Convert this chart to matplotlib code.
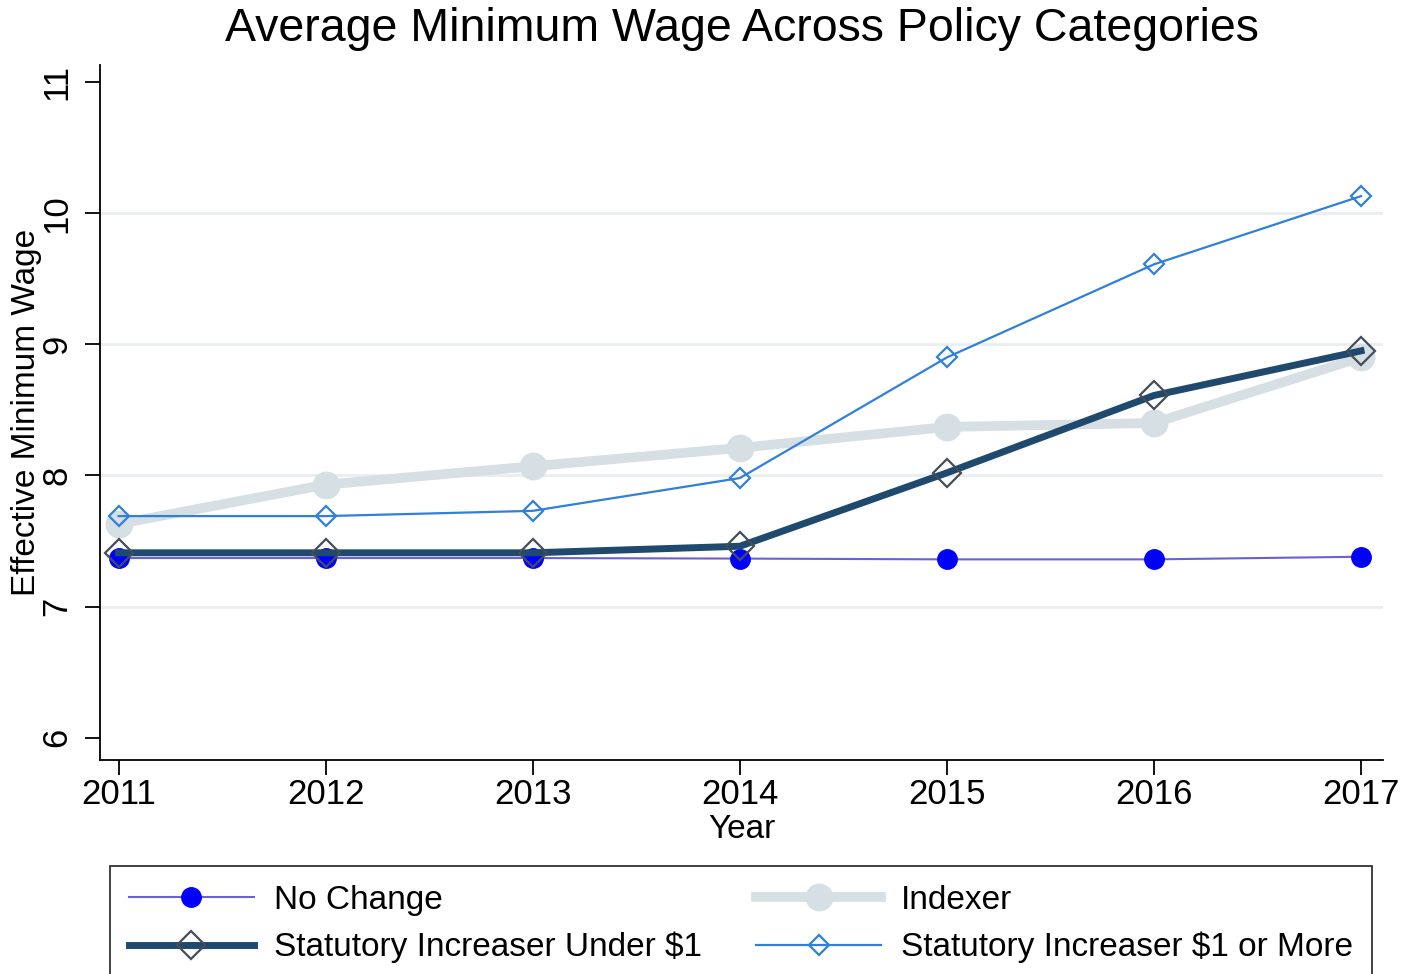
import matplotlib
matplotlib.use("Agg")
import matplotlib.pyplot as plt

years = [2011, 2012, 2013, 2014, 2015, 2016, 2017]
no_change = [7.37, 7.37, 7.37, 7.366, 7.36, 7.36, 7.38]
indexer = [7.63, 7.93, 8.07, 8.21, 8.37, 8.40, 8.90]
under_1 = [7.41, 7.41, 7.41, 7.46, 8.02, 8.61, 8.95]
one_or_more = [7.69, 7.69, 7.73, 7.98, 8.90, 9.61, 10.13]

y_ticks = [6, 7, 8, 9, 10, 11]
grid_at = [7, 8, 9, 10]

plt.rcParams["font.family"] = ["Liberation Sans", "DejaVu Sans"]

fig = plt.figure(figsize=(14.15, 9.74), dpi=100)
ax = fig.add_axes([100 / 1415, 1 - 760 / 974, 1283 / 1415, 695 / 974])

for g in grid_at:
    ax.axhline(g, color="#eaeef0", linewidth=2.0, zorder=0)

h1, = ax.plot(years, no_change, color="#6a5fd6", linewidth=1.5, marker="o",
              markersize=14, markerfacecolor="#0000ff", markeredgecolor="#0000ff",
              label="No Change", zorder=2)
h2, = ax.plot(years, indexer, color="#d5dfe4", linewidth=7, marker="o",
              markersize=19, markerfacecolor="#d5dfe4", markeredgecolor="#d5dfe4",
              label="Indexer", zorder=1)
h3, = ax.plot(years, under_1, color="#1f4a6d", linewidth=5, marker="D",
              markersize=14, markerfacecolor="none", markeredgecolor="#454d56",
              markeredgewidth=1.6, label="Statutory Increaser Under $1", zorder=3)
h4, = ax.plot(years, one_or_more, color="#2f80dc", linewidth=1.6, marker="D",
              markersize=10, markerfacecolor="none", markeredgecolor="#2f80dc",
              markeredgewidth=1.6, label="Statutory Increaser $1 or More", zorder=4)

ax.set_xlim(2010.91, 2017.106)
ax.set_ylim(5.83, 11.13)
ax.set_xticks(years)
ax.set_yticks(y_ticks)
ax.tick_params(axis="both", direction="out", length=11, width=1.3, labelsize=25, color="black")
ax.tick_params(axis="x", pad=2)
ax.tick_params(axis="y", pad=8)
for lab in ax.get_yticklabels():
    lab.set_rotation(90)
    lab.set_va("center")

for s in ["top", "right"]:
    ax.spines[s].set_visible(False)
for s in ["left", "bottom"]:
    ax.spines[s].set_linewidth(1.3)

ax.set_xlabel("Year", fontsize=24, labelpad=2)
ax.set_ylabel("Effective Minimum Wage", fontsize=24, labelpad=-1)
ax.set_title("Average Minimum Wage Across Policy Categories", fontsize=33.5, pad=17)

leg_top = 1 - 866 / 974
leg = fig.legend(handles=[h1, h3, h2, h4], ncol=2, loc="upper left",
                 bbox_to_anchor=(110 / 1415, leg_top - 0.15, 1262 / 1415, 0.15),
                 mode="expand", fontsize=24, frameon=True, fancybox=False,
                 edgecolor="black", handlelength=3.75, handletextpad=0.6,
                 labelspacing=0.48, borderpad=0.56, borderaxespad=0)
leg.get_frame().set_linewidth(1.3)

fig.savefig("out.png", dpi=100)
